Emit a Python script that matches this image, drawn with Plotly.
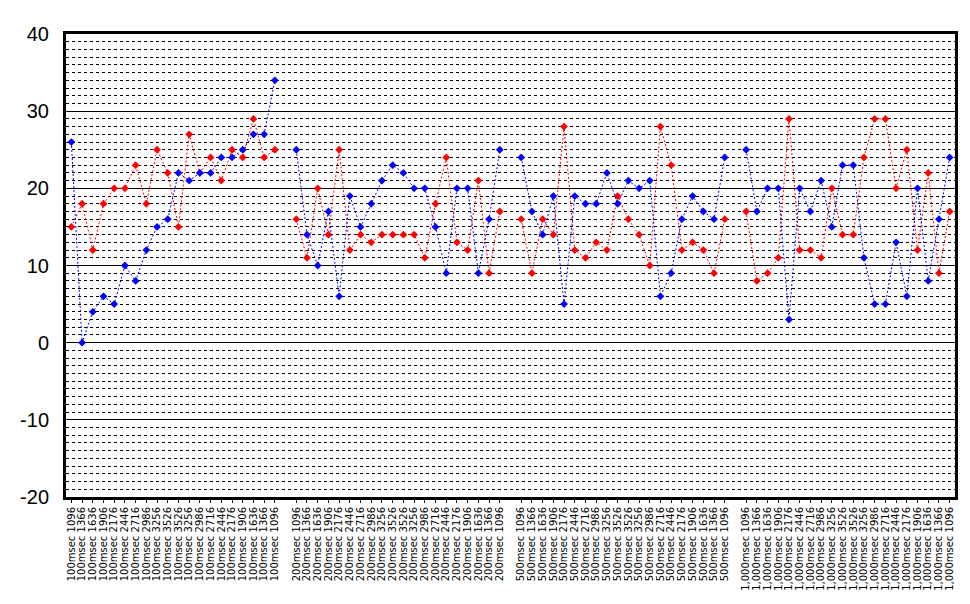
import plotly.graph_objects as go

# ---- data ----
group_names = ["100msec", "200msec", "500msec", "1,000msec"]
sizes = ["1096", "1366", "1636", "1906", "2176", "2446", "2716", "2986", "3256", "3526",
         "3526", "3256", "2986", "2716", "2446", "2176", "1906", "1636", "1366", "1096"]

blue_100 = [26, 0, 4, 6, 5, 10, 8, 12, 15, 16, 22, 21, 22, 22, 24, 24, 25, 27, 27, 34]
red_100 = [15, 18, 12, 18, 20, 20, 23, 18, 25, 22, 15, 27, 22, 24, 21, 25, 24, 29, 24, 25]
blue_200 = [25, 14, 10, 17, 6, 19, 15, 18, 21, 23, 22, 20, 20, 15, 9, 20, 20, 9, 16, 25]
red_200 = [16, 11, 20, 14, 25, 12, 14, 13, 14, 14, 14, 14, 11, 18, 24, 13, 12, 21, 9, 17]
blue_500 = [24, 17, 14, 19, 5, 19, 18, 18, 22, 18, 21, 20, 21, 6, 9, 16, 19, 17, 16, 24]
red_500 = [16, 9, 16, 14, 28, 12, 11, 13, 12, 19, 16, 14, 10, 28, 23, 12, 13, 12, 9, 16]
blue_1000 = [25, 17, 20, 20, 3, 20, 17, 21, 15, 23, 23, 11, 5, 5, 13, 6, 20, 8, 16, 24]
red_1000 = [17, 8, 9, 11, 29, 12, 12, 11, 20, 14, 14, 24, 29, 29, 20, 25, 12, 22, 9, 17]

blue_groups = [blue_100, blue_200, blue_500, blue_1000]
red_groups = [red_100, red_200, red_500, red_1000]

# build category axis: groups separated by one empty category
xs, blue, red, tickvals, ticktext = [], [], [], [], []
pos = 0
for g, name in enumerate(group_names):
    if g > 0:
        xs.append(pos); blue.append(None); red.append(None)
        pos += 1
    for i, s in enumerate(sizes):
        xs.append(pos)
        blue.append(blue_groups[g][i])
        red.append(red_groups[g][i])
        tickvals.append(pos)
        ticktext.append(f"{name} {s}")
        pos += 1
n_cat = pos

fig = go.Figure()
fig.add_trace(go.Scatter(
    x=xs, y=red, mode="lines+markers",
    line=dict(color="#FF0000", width=1, dash="2px,2px"),
    marker=dict(symbol="diamond", size=6, color="#FF0000"),
    connectgaps=False, showlegend=False))
fig.add_trace(go.Scatter(
    x=xs, y=blue, mode="lines+markers",
    line=dict(color="#0000FF", width=1, dash="2px,2px"),
    marker=dict(symbol="diamond", size=6, color="#0000FF"),
    connectgaps=False, showlegend=False))

ytick_vals = [-20, -10, 0, 10, 20, 30, 40]
ytick_text = ["-20", "-10", "0", "10", "20", "30", "40"]

fig.update_layout(
    width=962, height=596,
    margin=dict(l=58, r=15, t=26, b=107),
    paper_bgcolor="white", plot_bgcolor="white",
    font=dict(family="Liberation Sans, Arial, sans-serif", color="black"),
    xaxis=dict(
        range=[-0.5, n_cat - 0.5], automargin=False,
        tickmode="array", tickvals=tickvals, ticktext=ticktext,
        tickangle=-90, tickfont=dict(family="DejaVu Sans", size=10, color="black"),
        ticks="outside", ticklen=3, tickcolor="black", tickwidth=1,
        showgrid=False, zeroline=False,
        showline=True, linecolor="black", linewidth=3, mirror=True,
    ),
    yaxis=dict(
        range=[-20, 40], automargin=False,
        tickmode="array", tickvals=ytick_vals, ticktext=ytick_text,
        tickfont=dict(family="Liberation Sans, Arial", size=20, color="black"),
        ticks="", ticklabelstandoff=10,
        showgrid=True, gridcolor="black", gridwidth=1,
        minor=dict(dtick=1, tick0=0, showgrid=True, gridcolor="black",
                   gridwidth=1, griddash="3px,3px", ticks=""),
        zeroline=False,
        showline=True, linecolor="black", linewidth=3, mirror=True,
    ),
)

fig.write_html("out.html")
